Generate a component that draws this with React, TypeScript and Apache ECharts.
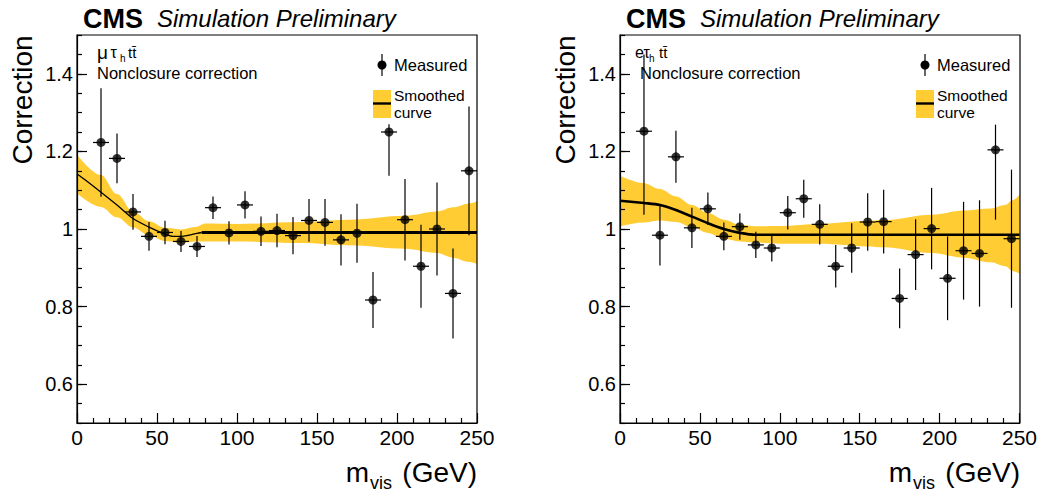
import React, { useEffect, useRef } from "react";
import * as echarts from "echarts";

// Bin centres (GeV) and half bin width of the measured points
const binCenters = [15, 25, 35, 45, 55, 65, 75, 85, 95, 105, 115, 125, 135, 145, 155, 165, 175, 185, 195, 205, 215, 225, 235, 245];
const binHalfWidth = 5;

// mu tau_h ttbar: measured correction and uncertainties
const muTauValues = [1.223, 1.182, 1.044, 0.981, 0.991, 0.968, 0.955, 1.055, 0.99, 1.062, 0.994, 0.996, 0.983, 1.022, 1.017, 0.972, 0.989, 0.817, 1.25, 1.024, 0.904, 1.0, 0.834, 1.15];
const muTauErrUp = [0.14, 0.064, 0.046, 0.037, 0.03, 0.027, 0.027, 0.029, 0.03, 0.035, 0.038, 0.043, 0.048, 0.055, 0.06, 0.066, 0.076, 0.072, 0.02, 0.105, 0.107, 0.12, 0.116, 0.166];
const muTauErrDown = [0.14, 0.064, 0.046, 0.037, 0.03, 0.027, 0.027, 0.029, 0.03, 0.035, 0.038, 0.043, 0.048, 0.055, 0.06, 0.066, 0.076, 0.072, 0.113, 0.105, 0.107, 0.12, 0.116, 0.166];

// mu tau_h ttbar: smoothed curve and its uncertainty band
const muTauCurveX = [0, 5, 15, 25, 35, 45, 55, 60, 65, 70, 75, 78, 250];
const muTauCurveY = [1.142, 1.127, 1.095, 1.062, 1.027, 1.005, 0.987, 0.981, 0.981, 0.984, 0.989, 0.991, 0.991];
const muTauThinUpTo = 78;
const muTauBandX = [0, 15, 25, 35, 45, 55, 65, 75, 80, 100, 140, 170, 205, 225, 235, 245, 250];
const muTauBandHigh = [1.192, 1.139, 1.09, 1.045, 1.02, 1.003, 0.999, 1.006, 1.014, 1.013, 1.018, 1.024, 1.034, 1.045, 1.056, 1.066, 1.071];
const muTauBandLow = [1.092, 1.057, 1.03, 1.004, 0.984, 0.969, 0.964, 0.968, 0.968, 0.968, 0.964, 0.958, 0.949, 0.938, 0.926, 0.915, 0.91];

// e tau_h ttbar: measured correction and uncertainties
const eTauValues = [1.252, 0.984, 1.186, 1.003, 1.052, 0.981, 1.006, 0.959, 0.951, 1.042, 1.078, 1.012, 0.904, 0.951, 1.018, 1.019, 0.821, 0.934, 1.001, 0.873, 0.944, 0.937, 1.204, 0.975];
const eTauErrUp = [0.198, 0.078, 0.067, 0.052, 0.042, 0.036, 0.034, 0.034, 0.035, 0.043, 0.049, 0.052, 0.055, 0.064, 0.074, 0.082, 0.077, 0.091, 0.105, 0.108, 0.126, 0.137, 0.065, 0.178];
const eTauErrDown = [0.215, 0.078, 0.067, 0.052, 0.042, 0.036, 0.034, 0.034, 0.035, 0.043, 0.049, 0.052, 0.055, 0.064, 0.074, 0.082, 0.077, 0.091, 0.105, 0.108, 0.126, 0.137, 0.18, 0.178];

// e tau_h ttbar: smoothed curve and its uncertainty band
const eTauCurveX = [0, 15, 25, 35, 45, 55, 65, 75, 85, 250];
const eTauCurveY = [1.073, 1.067, 1.062, 1.049, 1.032, 1.015, 1.0, 0.99, 0.985, 0.985];
const eTauThinUpTo = 0;
const eTauBandX = [0, 15, 25, 35, 45, 55, 65, 75, 85, 100, 125, 155, 165, 195, 215, 232, 241, 246, 250];
const eTauBandHigh = [1.137, 1.118, 1.103, 1.084, 1.062, 1.041, 1.024, 1.011, 1.007, 1.008, 1.013, 1.021, 1.023, 1.037, 1.048, 1.053, 1.062, 1.075, 1.088];
const eTauBandLow = [1.007, 1.017, 1.022, 1.018, 1.005, 0.99, 0.975, 0.968, 0.965, 0.962, 0.962, 0.955, 0.953, 0.938, 0.926, 0.914, 0.904, 0.891, 0.885];

// Axis definitions
const xMin = 0;
const xMax = 250;
const xStep = 50;
const yMin = 0.5;
const yMax = 1.5;
const yMajorTicks = [0.6, 0.8, 1.0, 1.2, 1.4];
const yMinorStep = 0.05;

const FONT = "'Liberation Sans', Arial, Helvetica, sans-serif";
const BAND_COLOR = "#ffcc33";

type PanelData = {
  lepton: string;
  values: number[];
  errUp: number[];
  errDown: number[];
  curveX: number[];
  curveY: number[];
  thinUpTo: number;
  bandX: number[];
  bandHigh: number[];
  bandLow: number[];
};

const panels: PanelData[] = [
  {
    lepton: "μ",
    values: muTauValues,
    errUp: muTauErrUp,
    errDown: muTauErrDown,
    curveX: muTauCurveX,
    curveY: muTauCurveY,
    thinUpTo: muTauThinUpTo,
    bandX: muTauBandX,
    bandHigh: muTauBandHigh,
    bandLow: muTauBandLow,
  },
  {
    lepton: "e",
    values: eTauValues,
    errUp: eTauErrUp,
    errDown: eTauErrDown,
    curveX: eTauCurveX,
    curveY: eTauCurveY,
    thinUpTo: eTauThinUpTo,
    bandX: eTauBandX,
    bandHigh: eTauBandHigh,
    bandLow: eTauBandLow,
  },
];

const PANEL_LEFT = [77, 620];
const PANEL_TOP = 35;
const PANEL_W = 400;
const PANEL_H = 388;

// channel label piece positions (lepton, tau, subscript h, ttbar) and lepton glyph size
const CHANNEL_POS = [
  { lep: 97, lepSize: 19, tau: 110.5, h: 120, tt: 128 },
  { lep: 635, lepSize: 16, tau: 643.5, h: 649, tt: 659 },
];

function buildOption() {
  const grids: any[] = [];
  const xAxes: any[] = [];
  const yAxes: any[] = [];
  const series: any[] = [];
  const graphics: any[] = [];

  panels.forEach((p, i) => {
    const left = PANEL_LEFT[i];
    const dx = left - PANEL_LEFT[0];
    grids.push({ left, top: PANEL_TOP, width: PANEL_W, height: PANEL_H, show: false });

    xAxes.push({
      gridIndex: i,
      type: "value",
      min: xMin,
      max: xMax,
      interval: xStep,
      z: 10,
      axisLine: { show: true, onZero: false, lineStyle: { color: "#000", width: 1.2 } },
      axisTick: { show: true, inside: true, length: 10, lineStyle: { color: "#000", width: 1.2 } },
      minorTick: { show: true, splitNumber: 5, length: 5, lineStyle: { color: "#000", width: 1.2 } },
      axisLabel: { color: "#000", fontSize: 21, fontFamily: FONT, margin: 4 },
      splitLine: { show: false },
      minorSplitLine: { show: false },
    });

    // major ticks with labels
    yAxes.push({
      gridIndex: i,
      type: "value",
      min: yMin,
      max: yMax,
      position: "left",
      z: 10,
      axisLine: { show: true, onZero: false, lineStyle: { color: "#000", width: 1.2 } },
      axisTick: { show: true, inside: true, length: 10, customValues: yMajorTicks, lineStyle: { color: "#000", width: 1.2 } },
      axisLabel: {
        color: "#000",
        fontSize: 20,
        fontFamily: FONT,
        margin: 4,
        customValues: yMajorTicks,
        formatter: (v: number) => String(Math.round(v * 10) / 10),
      },
      splitLine: { show: false },
    });
    // minor ticks only
    yAxes.push({
      gridIndex: i,
      type: "value",
      min: yMin,
      max: yMax,
      interval: yMinorStep,
      position: "left",
      offset: 0,
      z: 10,
      axisLine: { show: false },
      axisTick: { show: true, inside: true, length: 5, lineStyle: { color: "#000", width: 1.2 } },
      axisLabel: { show: false },
      splitLine: { show: false },
    });

    const yIdx = 2 * i;

    // uncertainty band: upper edge filled in band colour, lower edge masked in white
    series.push({
      type: "line",
      xAxisIndex: i,
      yAxisIndex: yIdx,
      data: p.bandX.map((x, k) => [x, p.bandHigh[k]]),
      symbol: "none",
      smooth: 0.35,
      smoothMonotone: "x",
      lineStyle: { width: 0, opacity: 0 },
      areaStyle: { color: BAND_COLOR, opacity: 1, origin: "start" },
      silent: true,
      z: 1,
    });
    series.push({
      type: "line",
      xAxisIndex: i,
      yAxisIndex: yIdx,
      data: p.bandX.map((x, k) => [x, p.bandLow[k]]),
      symbol: "none",
      smooth: 0.35,
      smoothMonotone: "x",
      lineStyle: { width: 0, opacity: 0 },
      areaStyle: { color: "#ffffff", opacity: 1, origin: "start" },
      silent: true,
      z: 2,
    });

    // smoothed curve
    const curvePts = p.curveX.map((x, k) => [x, p.curveY[k]]);
    const thin = curvePts.filter((pt) => pt[0] <= p.thinUpTo);
    const thick = curvePts.filter((pt) => pt[0] >= p.thinUpTo);
    if (thin.length > 1) {
      series.push({
        type: "line",
        xAxisIndex: i,
        yAxisIndex: yIdx,
        data: thin,
        symbol: "none",
        smooth: 0.3,
        lineStyle: { color: "#000", width: 1.3 },
        silent: true,
        z: 3,
      });
    }
    series.push({
      type: "line",
      xAxisIndex: i,
      yAxisIndex: yIdx,
      data: thick,
      symbol: "none",
      smooth: 0.3,
      lineStyle: { color: "#000", width: i === 0 ? 2.8 : 2.6 },
      silent: true,
      z: 3,
    });

    // error bars of measured points
    series.push({
      type: "custom",
      xAxisIndex: i,
      yAxisIndex: yIdx,
      data: binCenters.map((x, k) => [x, p.values[k], p.values[k] - p.errDown[k], p.values[k] + p.errUp[k]]),
      renderItem: (_params: any, api: any) => {
        const x = api.value(0);
        const y = api.value(1);
        const c = api.coord([x, y]);
        const lo = api.coord([x, api.value(2)]);
        const hi = api.coord([x, api.value(3)]);
        const l = api.coord([x - binHalfWidth, y]);
        const r = api.coord([x + binHalfWidth, y]);
        return {
          type: "group",
          children: [
            { type: "line", shape: { x1: c[0], y1: hi[1], x2: c[0], y2: lo[1] }, style: { stroke: "#000", lineWidth: 1.2 } },
            { type: "line", shape: { x1: l[0], y1: c[1], x2: r[0], y2: c[1] }, style: { stroke: "#000", lineWidth: 1.2 } },
          ],
        };
      },
      silent: true,
      z: 4,
    });

    // measured points
    series.push({
      type: "scatter",
      xAxisIndex: i,
      yAxisIndex: yIdx,
      data: binCenters.map((x, k) => [x, p.values[k]]),
      symbol: "circle",
      symbolSize: 9,
      itemStyle: { color: "#000" },
      silent: true,
      z: 5,
    });

    // frame
    graphics.push({
      type: "rect",
      shape: { x: left, y: PANEL_TOP, width: PANEL_W, height: PANEL_H },
      style: { fill: "none", stroke: "#000", lineWidth: 1.2 },
      silent: true,
      z: 50,
    });

    // header
    graphics.push({
      type: "text",
      style: { text: "CMS", x: 83 + dx, y: 18.5, font: `bold 27px ${FONT}`, fill: "#000", verticalAlign: "middle" },
      z: 60,
    });
    graphics.push({
      type: "text",
      style: { text: "Simulation Preliminary", x: 157 + dx, y: 18.5, font: `italic 24px ${FONT}`, fill: "#000", verticalAlign: "middle" },
      z: 60,
    });

    // y axis title
    graphics.push({
      type: "text",
      x: 22 + dx,
      y: 100,
      rotation: Math.PI / 2,
      style: { text: "Correction", x: 0, y: 0, font: `28px ${FONT}`, fill: "#000", align: "center", verticalAlign: "middle" },
      z: 60,
    });

    // x axis title
    graphics.push({
      type: "text",
      style: { text: "(GeV)", x: 477 + dx, y: 472, font: `28px ${FONT}`, fill: "#000", align: "right", verticalAlign: "middle" },
      z: 60,
    });
    graphics.push({
      type: "text",
      style: { text: "m", x: 369 + dx, y: 472, font: `28px ${FONT}`, fill: "#000", align: "right", verticalAlign: "middle" },
      z: 60,
    });
    graphics.push({
      type: "text",
      style: { text: "vis", x: 370 + dx, y: 483, font: `18px ${FONT}`, fill: "#000", align: "left", verticalAlign: "middle" },
      z: 60,
    });

    // channel label
    const cp = CHANNEL_POS[i];
    graphics.push({
      type: "text",
      style: { text: p.lepton, x: cp.lep, y: 52.5, font: `${cp.lepSize}px ${FONT}`, fill: "#000", verticalAlign: "middle" },
      z: 60,
    });
    graphics.push({
      type: "text",
      style: { text: "τ", x: cp.tau, y: 52.5, font: `16px ${FONT}`, fill: "#000", verticalAlign: "middle" },
      z: 60,
    });
    graphics.push({
      type: "text",
      style: { text: "h", x: cp.h, y: 58, font: `10px ${FONT}`, fill: "#000", verticalAlign: "middle" },
      z: 60,
    });
    graphics.push({
      type: "text",
      style: { text: "tt\u0304", x: cp.tt, y: 52.5, font: `15px ${FONT}`, fill: "#000", verticalAlign: "middle" },
      z: 60,
    });
    graphics.push({
      type: "text",
      style: { text: "Nonclosure correction", x: 97 + dx, y: 72.5, font: `16.5px ${FONT}`, fill: "#000", verticalAlign: "middle" },
      z: 60,
    });

    // legend
    const lx = 382 + dx;
    graphics.push({ type: "line", shape: { x1: lx, y1: 54, x2: lx, y2: 76 }, style: { stroke: "#000", lineWidth: 1.2 }, z: 60 });
    graphics.push({ type: "circle", shape: { cx: lx, cy: 65, r: 4.5 }, style: { fill: "#000" }, z: 61 });
    graphics.push({
      type: "text",
      style: { text: "Measured", x: 394 + dx, y: 65, font: `16.5px ${FONT}`, fill: "#000", verticalAlign: "middle" },
      z: 60,
    });
    graphics.push({ type: "rect", shape: { x: 373 + dx, y: 90, width: 18, height: 28 }, style: { fill: BAND_COLOR }, z: 60 });
    graphics.push({ type: "line", shape: { x1: 373 + dx, y1: 103.5, x2: 391 + dx, y2: 103.5 }, style: { stroke: "#000", lineWidth: 2.4 }, z: 61 });
    graphics.push({
      type: "text",
      style: {
        text: "Smoothed\ncurve",
        x: 394 + dx,
        y: 104,
        font: `15.5px ${FONT}`,
        lineHeight: 17.5,
        fill: "#000",
        verticalAlign: "middle",
      },
      z: 60,
    });
  });

  return {
    animation: false,
    backgroundColor: "#ffffff",
    grid: grids,
    xAxis: xAxes,
    yAxis: yAxes,
    series,
    graphic: { elements: graphics },
  };
}

export default function App() {
  const ref = useRef<HTMLDivElement>(null);
  useEffect(() => {
    if (!ref.current) return;
    const chart = echarts.init(ref.current, undefined, { renderer: "svg" });
    chart.setOption(buildOption() as any);
    return () => chart.dispose();
  }, []);
  return (
    <div
      ref={ref}
      style={{ position: "absolute", left: 0, top: 0, width: 1040, height: 496, background: "#fff" }}
    />
  );
}
